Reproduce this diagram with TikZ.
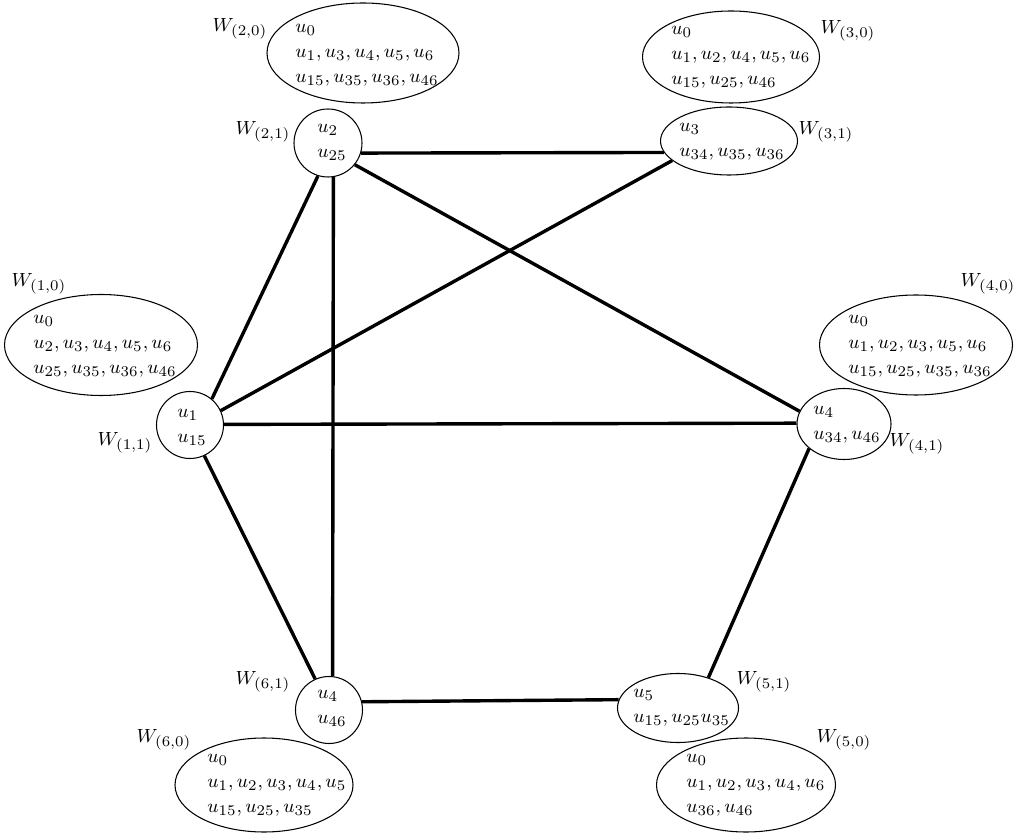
\documentclass[tikz,border=0pt]{standalone}
\usetikzlibrary{shapes.geometric}
\begin{document}
\begin{tikzpicture}[x=0.4717pt,y=-0.4717pt,
  ell/.style n args={2}{ellipse, draw, line width=0.5pt, minimum width=#1*0.4717pt, minimum height=#2*0.4717pt, inner sep=0pt},
  txt/.style={anchor=west, align=left, inner sep=0pt, font=\fontsize{9.5}{11.7}\selectfont},
  lab/.style={inner sep=0pt, font=\fontsize{9.5}{11.7}\selectfont},
  edge/.style={line width=1.6pt}]
\useasboundingbox (0,0) rectangle (1015,834);
% containers
\node[ell={192}{100}] (w20) at (363,53) {};
\node[ell={68}{68}] (w21) at (328,143) {};
\node[ell={177}{92}] (w30) at (731,57) {};
\node[ell={137}{68}] (w31) at (729,141) {};
\node[ell={193}{101}] (w10) at (101,345) {};
\node[ell={67}{67}] (w11) at (190,425) {};
\node[ell={193}{100}] (w40) at (916,345) {};
\node[ell={94}{71}] (w41) at (844,424) {};
\node[ell={67}{67}] (w61) at (329,710) {};
\node[ell={178}{94}] (w60) at (264,785) {};
\node[ell={121}{69}] (w51) at (678,708) {};
\node[ell={179}{94}] (w50) at (746,785) {};
% texts
\node[txt] (t20) at (295,55) {$u_0$\\$u_1, u_3, u_4, u_5, u_6$\\$u_{15}, u_{35}, u_{36}, u_{46}$};
\node[txt] (t21) at (317,142) {$u_2$\\$u_{25}$};
\node[txt] (t30) at (671,57) {$u_0$\\$u_1, u_2, u_4, u_5, u_6$\\$u_{15}, u_{25}, u_{46}$};
\node[txt] (t31) at (679,142) {$u_3$\\$u_{34}, u_{35}, u_{36}$};
\node[txt] (t10) at (33,346) {$u_0$\\$u_2, u_3, u_4, u_5, u_6$\\$u_{25}, u_{35}, u_{36}, u_{46}$};
\node[txt] (t11) at (177,427) {$u_1$\\$u_{15}$};
\node[txt] (t40) at (848,346) {$u_0$\\$u_1, u_2, u_3, u_5, u_6$\\$u_{15}, u_{25}, u_{35}, u_{36}$};
\node[txt] (t41) at (813,425) {$u_4$\\$u_{34}, u_{46}$};
\node[txt] (t61) at (317,708) {$u_4$\\$u_{46}$};
\node[txt] (t60) at (207,785) {$u_0$\\$u_1, u_2, u_3, u_4, u_5$\\$u_{15}, u_{25}, u_{35}$};
\node[txt] (t51) at (633,708) {$u_5$\\$u_{15}, u_{25}u_{35}$};
\node[txt] (t50) at (686,785) {$u_0$\\$u_1, u_2, u_3, u_4, u_6$\\$u_{36}, u_{46}$};
% labels
\node[lab] (l20) at (240,29) {$W_{(2,0)}$};
\node[lab] (l21) at (263,132) {$W_{(2,1)}$};
\node[lab] (l30) at (848,31) {$W_{(3,0)}$};
\node[lab] (l31) at (826,132) {$W_{(3,1)}$};
\node[lab] (l10) at (39,284) {$W_{(1,0)}$};
\node[lab] (l11) at (125,443) {$W_{(1,1)}$};
\node[lab] (l40) at (988,284) {$W_{(4,0)}$};
\node[lab] (l41) at (917,444) {$W_{(4,1)}$};
\node[lab] (l61) at (263,682) {$W_{(6,1)}$};
\node[lab] (l60) at (164,740) {$W_{(6,0)}$};
\node[lab] (l51) at (764,682) {$W_{(5,1)}$};
\node[lab] (l50) at (844,740) {$W_{(5,0)}$};
% edges
\draw[edge] (w21.-17.4) -- (w31.190.6);
\draw[edge] (w21.-107.9) -- (w11.50.8);
\draw[edge] (w21.-81.6) -- (w61.84.8);
\draw[edge] (w21.-39.2) -- (w41.164.7);
\draw[edge] (w31.199.6) -- (w11.25.1);
\draw[edge] (w11.1) -- (w41.179);
\draw[edge] (w11.-65.6) -- (w61.114.3);
\draw[edge] (w61.14.8) -- (w51.172.4);
\draw[edge] (w41.215.5) -- (w51.45.9);
\end{tikzpicture}
\end{document}
